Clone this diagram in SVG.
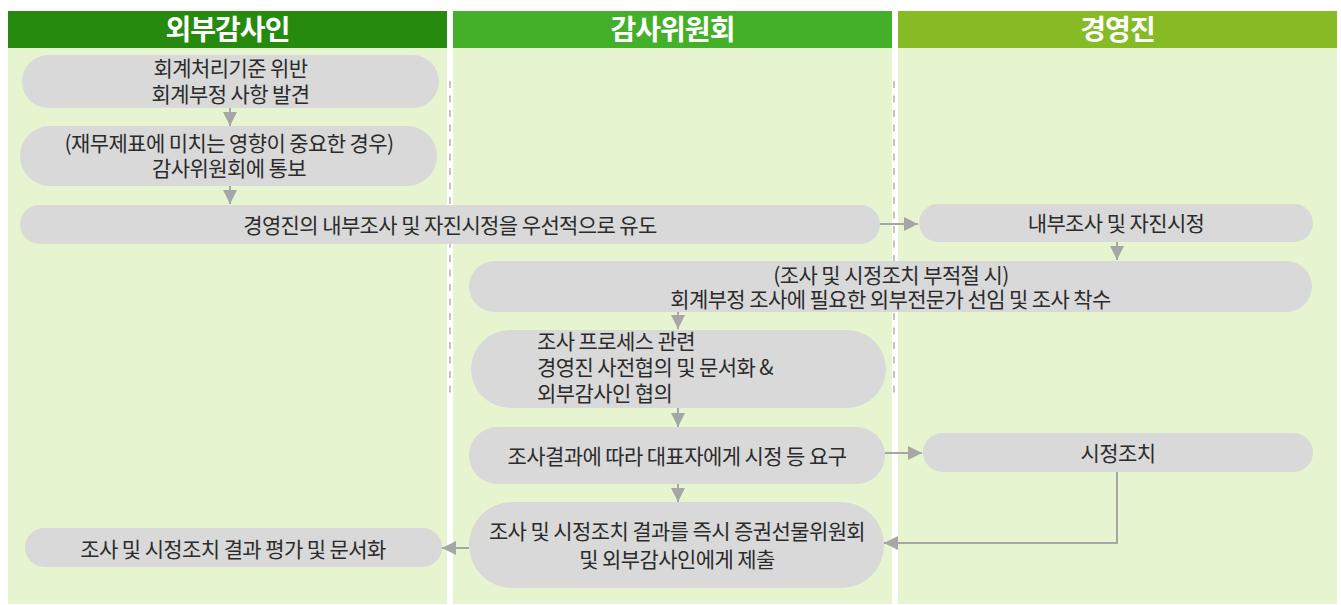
<svg xmlns="http://www.w3.org/2000/svg" width="1341" height="605" viewBox="0 0 1341 605">
<defs>
<style>
.bg{fill:#e6f5d0}
.hd{font-family:"Noto Sans CJK KR","Noto Sans",sans-serif;font-size:28px;font-weight:700;fill:#ffffff;text-anchor:middle;letter-spacing:-1px}
.nd{fill:#d9d9d9}
.t{font-family:"Noto Sans CJK KR","Noto Sans",sans-serif;font-size:21px;fill:#2b2b2b;text-anchor:middle;letter-spacing:-0.6px;dominant-baseline:central}
.tl{text-anchor:start}
.dash{stroke:#c4c4c4;stroke-width:2;stroke-dasharray:7 7.5;fill:none}
.cn{stroke:#a6a6a6;stroke-width:2;fill:none;marker-end:url(#ah)}
</style>
<marker id="ah" viewBox="0 0 10 10" refX="10" refY="5" markerUnits="userSpaceOnUse" markerWidth="14" markerHeight="15" orient="auto">
<path d="M0,0 L10,5 L0,10 z" fill="#a6a6a6"/>
</marker>
</defs>
<rect width="1341" height="605" fill="#ffffff"/>
<g id="lane-external-auditor">
<rect class="bg" x="8" y="48" width="439" height="556"/>
<rect x="8" y="11" width="439" height="37" fill="#268a0f"/>
<text class="hd" x="227.5" y="40">외부감사인</text>
</g>
<g id="lane-audit-committee">
<rect class="bg" x="453" y="48" width="439" height="556"/>
<rect x="453" y="11" width="439" height="37" fill="#44b02a"/>
<text class="hd" x="672.5" y="40">감사위원회</text>
</g>
<g id="lane-management">
<rect class="bg" x="898" y="48" width="439" height="556"/>
<rect x="898" y="11" width="439" height="37" fill="#87bb26"/>
<text class="hd" x="1117.5" y="40">경영진</text>
</g>
<g id="dividers">
<line class="dash" x1="450" y1="81" x2="450" y2="400"/>
<line class="dash" x1="894" y1="81" x2="894" y2="400"/>
</g>
<g id="connectors">
<line class="cn" x1="230" y1="108" x2="230" y2="126"/>
<line class="cn" x1="230" y1="186" x2="230" y2="204"/>
<line class="cn" x1="880" y1="224" x2="918" y2="224"/>
<line class="cn" x1="1117" y1="242" x2="1117" y2="260"/>
<line class="cn" x1="678" y1="312" x2="678" y2="329"/>
<line class="cn" x1="678" y1="408" x2="678" y2="427"/>
<line class="cn" x1="885" y1="453" x2="922" y2="453"/>
<line class="cn" x1="678" y1="484" x2="678" y2="502"/>
<polyline class="cn" points="1117,472 1117,543 884,543"/>
<line class="cn" x1="469" y1="548" x2="442" y2="548"/>
</g>
<g id="node-discovery">
<rect class="nd" x="22" y="55" width="417" height="53" rx="26.5"/>
<text class="t" x="230.5" y="67">회계처리기준 위반</text>
<text class="t" x="230.5" y="93">회계부정 사항 발견</text>
</g>
<g id="node-notify">
<rect class="nd" x="20" y="126" width="417" height="60" rx="30"/>
<text class="t" x="229" y="142">(재무제표에 미치는 영향이 중요한 경우)</text>
<text class="t" x="229" y="167">감사위원회에 통보</text>
</g>
<g id="node-induce">
<rect class="nd" x="20" y="205" width="860" height="39" rx="19.5"/>
<text class="t" x="450" y="224">경영진의 내부조사 및 자진시정을 우선적으로 유도</text>
</g>
<g id="node-internal">
<rect class="nd" x="919" y="204" width="394" height="38" rx="19"/>
<text class="t" x="1116" y="222">내부조사 및 자진시정</text>
</g>
<g id="node-expert">
<rect class="nd" x="469" y="261" width="843" height="51" rx="25.5"/>
<text class="t" x="891" y="274">(조사 및 시정조치 부적절 시)</text>
<text class="t" x="890.5" y="298">회계부정 조사에 필요한 외부전문가 선임 및 조사 착수</text>
</g>
<g id="node-consult">
<rect class="nd" x="471" y="330" width="415" height="78" rx="39"/>
<text class="t tl" x="537" y="340">조사 프로세스 관련</text>
<text class="t tl" x="537" y="366">경영진 사전협의 및 문서화 &amp;</text>
<text class="t tl" x="537" y="392">외부감사인 협의</text>
</g>
<g id="node-demand">
<rect class="nd" x="469" y="427" width="416" height="57" rx="28.5"/>
<text class="t" x="677" y="455">조사결과에 따라 대표자에게 시정 등 요구</text>
</g>
<g id="node-correct">
<rect class="nd" x="923" y="433" width="390" height="39" rx="19.5"/>
<text class="t" x="1118" y="452">시정조치</text>
</g>
<g id="node-submit">
<rect class="nd" x="469" y="502" width="415" height="86" rx="43"/>
<text class="t" x="677" y="530">조사 및 시정조치 결과를 즉시 증권선물위원회</text>
<text class="t" x="677" y="558">및 외부감사인에게 제출</text>
</g>
<g id="node-evaluate">
<rect class="nd" x="25" y="528" width="417" height="39" rx="19.5"/>
<text class="t" x="233" y="548">조사 및 시정조치 결과 평가 및 문서화</text>
</g>
</svg>
